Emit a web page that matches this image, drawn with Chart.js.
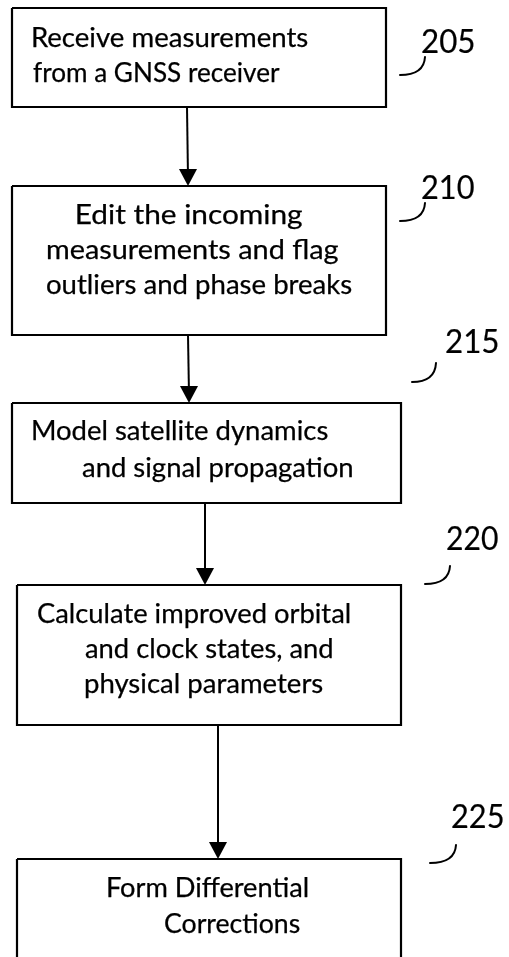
<!DOCTYPE html>
<html>
<head>
<meta charset="utf-8">
<script src="https://cdn.jsdelivr.net/npm/chart.js@4.4.0/dist/chart.umd.min.js"></script>
<style>
html,body{margin:0;padding:0;background:#fff;overflow:hidden}
#wrap{width:509px;height:957px;position:relative}
canvas{display:block}
</style>
</head>
<body>
<div id="wrap"><canvas id="c" width="509" height="957"></canvas></div>
<script>
// ---------- data ----------
const stepIds = ["205", "210", "215", "220", "225"];
const stepLines = [
  ["Receive measurements", "from a GNSS receiver"],
  ["Edit the incoming", "measurements and flag", "outliers and phase breaks"],
  ["Model satellite dynamics", "and signal propagation"],
  ["Calculate improved orbital", "and clock states, and", "physical parameters"],
  ["Form Differential", "Corrections"]
];

// ---------- layout (in drawing units, 0..509 x 0..957) ----------
const boxLeft   = [12, 12, 12, 17, 17];
const boxRight  = [386, 386, 401, 401, 401];
const boxTop    = [8, 186, 403, 585, 859];
const boxBottom = [107, 335, 503, 725, 990];
const arrowXStart = [187, 188, 205, 218];
const arrowXEnd   = [188, 189, 205, 218];
const lineLeft  = [[33, 33], [77, 47, 47], [33, 82], [38, 85, 85], [108, 165]];
const lineRight = [[308, 280], [302, 338, 352], [328, 352], [350, 332, 323], [308, 300]];
const lineBase  = [[47, 82], [224, 259, 294], [440, 477], [623, 658, 693], [897, 933]];
const idLeft  = [422, 422, 446, 447, 452];
const idRight = [474, 474, 498, 498, 503];
const idBase  = [53, 199, 353, 550, 828];
const leaderStart = [[400, 75], [400, 221], [412, 382], [425, 584], [430, 863]];
const leaderEnd   = [[425, 57], [425, 203], [436, 363], [450, 566], [456, 845]];

const INK = '#000000';
const BODY_FONT = '26px Lato';
const ID_FONT = '32px Lato';

// ---------- datasets ----------
const datasets = [];
for (let i = 0; i < boxLeft.length; i++) {
  datasets.push({
    data: [
      {x: boxLeft[i], y: boxTop[i]},
      {x: boxRight[i], y: boxTop[i]},
      {x: boxRight[i], y: boxBottom[i]},
      {x: boxLeft[i], y: boxBottom[i]},
      {x: boxLeft[i], y: boxTop[i]}
    ],
    showLine: true, borderColor: INK, borderWidth: 2.2, pointRadius: 0,
    borderJoinStyle: 'miter', fill: false, tension: 0
  });
}
for (let i = 0; i < arrowXStart.length; i++) {
  datasets.push({
    data: [
      {x: arrowXStart[i], y: boxBottom[i]},
      {x: arrowXEnd[i], y: boxTop[i + 1] - 8}
    ],
    showLine: true, borderColor: INK, borderWidth: 2, pointRadius: 0, fill: false
  });
}

// ---------- plugin for arrowheads, leaders and text ----------
const flowPlugin = {
  id: 'flow',
  afterDatasetsDraw(chart) {
    const ctx = chart.ctx;
    const xs = chart.scales.x, ys = chart.scales.y;
    const px = v => xs.getPixelForValue(v);
    const py = v => ys.getPixelForValue(v);
    ctx.save();
    ctx.fillStyle = INK;
    ctx.strokeStyle = INK;
    // arrowheads
    for (let i = 0; i < arrowXEnd.length; i++) {
      const tx = px(arrowXEnd[i]), ty = py(boxTop[i + 1]);
      ctx.beginPath();
      ctx.moveTo(tx, ty);
      ctx.lineTo(tx - 9, ty - 17);
      ctx.lineTo(tx + 9, ty - 17);
      ctx.closePath();
      ctx.fill();
    }
    // leader curves
    ctx.lineWidth = 2;
    ctx.lineCap = 'round';
    for (let i = 0; i < leaderStart.length; i++) {
      const sx = px(leaderStart[i][0]), sy = py(leaderStart[i][1]);
      const ex = px(leaderEnd[i][0]), ey = py(leaderEnd[i][1]);
      ctx.beginPath();
      ctx.moveTo(sx, sy);
      ctx.quadraticCurveTo(ex - 1, sy, ex, ey);
      ctx.stroke();
    }
    // text
    ctx.textBaseline = 'alphabetic';
    ctx.textAlign = 'left';
    ctx.lineJoin = 'round';
    const fitText = (t, l, r, b, font, weight) => {
      ctx.font = font;
      const m = ctx.measureText(t);
      const w = (m.actualBoundingBoxRight !== undefined)
        ? (m.actualBoundingBoxRight + m.actualBoundingBoxLeft) : m.width;
      const left = px(l), right = px(r);
      const s = (right - left) / w;
      ctx.save();
      ctx.translate(left + (m.actualBoundingBoxLeft || 0) * s, py(b));
      ctx.scale(s, 1);
      ctx.fillText(t, 0, 0);
      ctx.lineWidth = weight;
      ctx.strokeText(t, 0, 0);
      ctx.restore();
    };
    for (let i = 0; i < stepLines.length; i++) {
      for (let j = 0; j < stepLines[i].length; j++) {
        fitText(stepLines[i][j], lineLeft[i][j], lineRight[i][j], lineBase[i][j], BODY_FONT, 0.25);
      }
      fitText(stepIds[i], idLeft[i], idRight[i], idBase[i], ID_FONT, 0.2);
    }
    ctx.restore();
  }
};

new Chart(document.getElementById('c'), {
  type: 'scatter',
  data: {datasets},
  options: {
    responsive: false,
    animation: false,
    layout: {padding: 0},
    plugins: {legend: {display: false}, tooltip: {enabled: false}},
    scales: {
      x: {type: 'linear', min: 0, max: 509, display: false},
      y: {type: 'linear', min: 0, max: 957, reverse: true, display: false}
    }
  },
  plugins: [flowPlugin]
});
</script>
</body>
</html>
